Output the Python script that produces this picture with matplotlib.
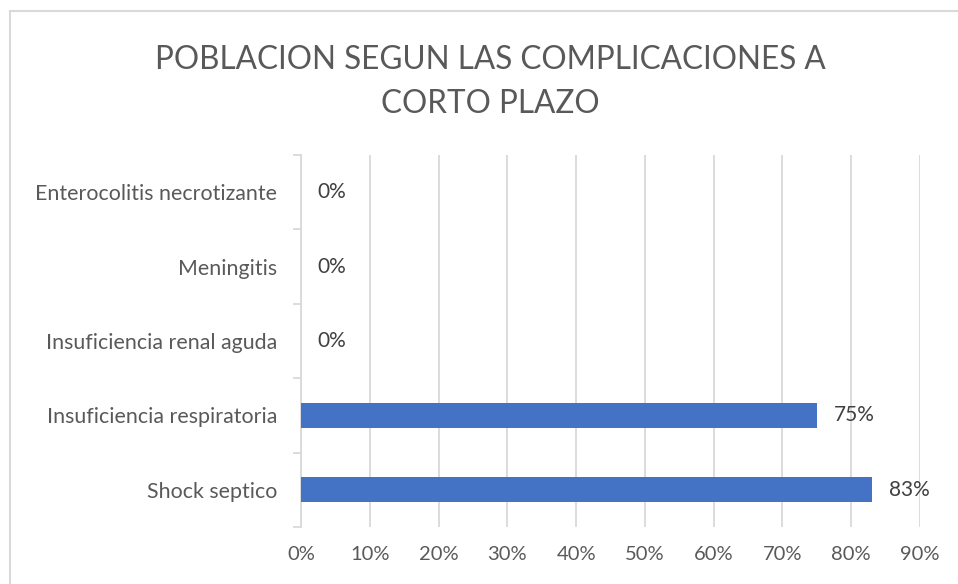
import matplotlib.pyplot as plt
from matplotlib.patches import Rectangle
from matplotlib.ticker import FixedLocator, PercentFormatter

# data
categorias = ['Shock septico', 'Insuficiencia respiratoria', 'Insuficiencia renal aguda',
              'Meningitis', 'Enterocolitis necrotizante']
porcentajes = [83, 75, 0, 0, 0]
titulo = 'POBLACION SEGUN LAS COMPLICACIONES A\nCORTO PLAZO'

plt.rcParams['font.family'] = ['Lato', 'DejaVu Sans']

fig = plt.figure(figsize=(9.58, 5.84), dpi=100)
ax = fig.add_axes([301 / 958, 1 - 527 / 584, 619 / 958, 372 / 584])

# chart border
fig.patches.append(Rectangle((10 / 958, -0.1), 1.2, 1 - 11 / 584 + 0.1,
                             transform=fig.transFigure, fill=False,
                             edgecolor='#d9d9d9', linewidth=1.5))

y = range(len(categorias))
ax.barh(y, porcentajes, height=0.34, color='#4472C4', zorder=3)

for yi, v in zip(y, porcentajes):
    ax.annotate(f'{v}%', (v, yi), xytext=(12, 0), textcoords='offset points',
                va='center', ha='left', fontsize=15, color='#404040')

ax.set_xlim(0, 90)
ax.set_ylim(-0.5, len(categorias) - 0.5)
ax.set_xticks(range(0, 91, 10))
ax.xaxis.set_major_formatter(PercentFormatter(decimals=0))
ax.set_yticks(list(y))
ax.set_yticklabels(categorias)
ax.yaxis.set_minor_locator(FixedLocator([i - 0.5 for i in range(len(categorias) + 1)]))

ax.tick_params(axis='x', length=0, pad=14, labelsize=14.5, colors='#595959')
ax.tick_params(axis='y', which='major', length=0, pad=17, labelsize=15.4, colors='#595959')
ax.tick_params(axis='y', which='minor', length=6, width=1.3, color='#d9d9d9')

ax.grid(axis='x', color='#d9d9d9', linewidth=1.3, zorder=0)
for s in ['top', 'right', 'bottom']:
    ax.spines[s].set_visible(False)
ax.spines['left'].set_color('#d9d9d9')
ax.spines['left'].set_linewidth(1.3)

fig.text(0.512, 1 - 82 / 584, titulo, ha='center', va='center',
         fontsize=22.7, color='#595959', linespacing=1.6)

fig.savefig('out.png', dpi=100)
